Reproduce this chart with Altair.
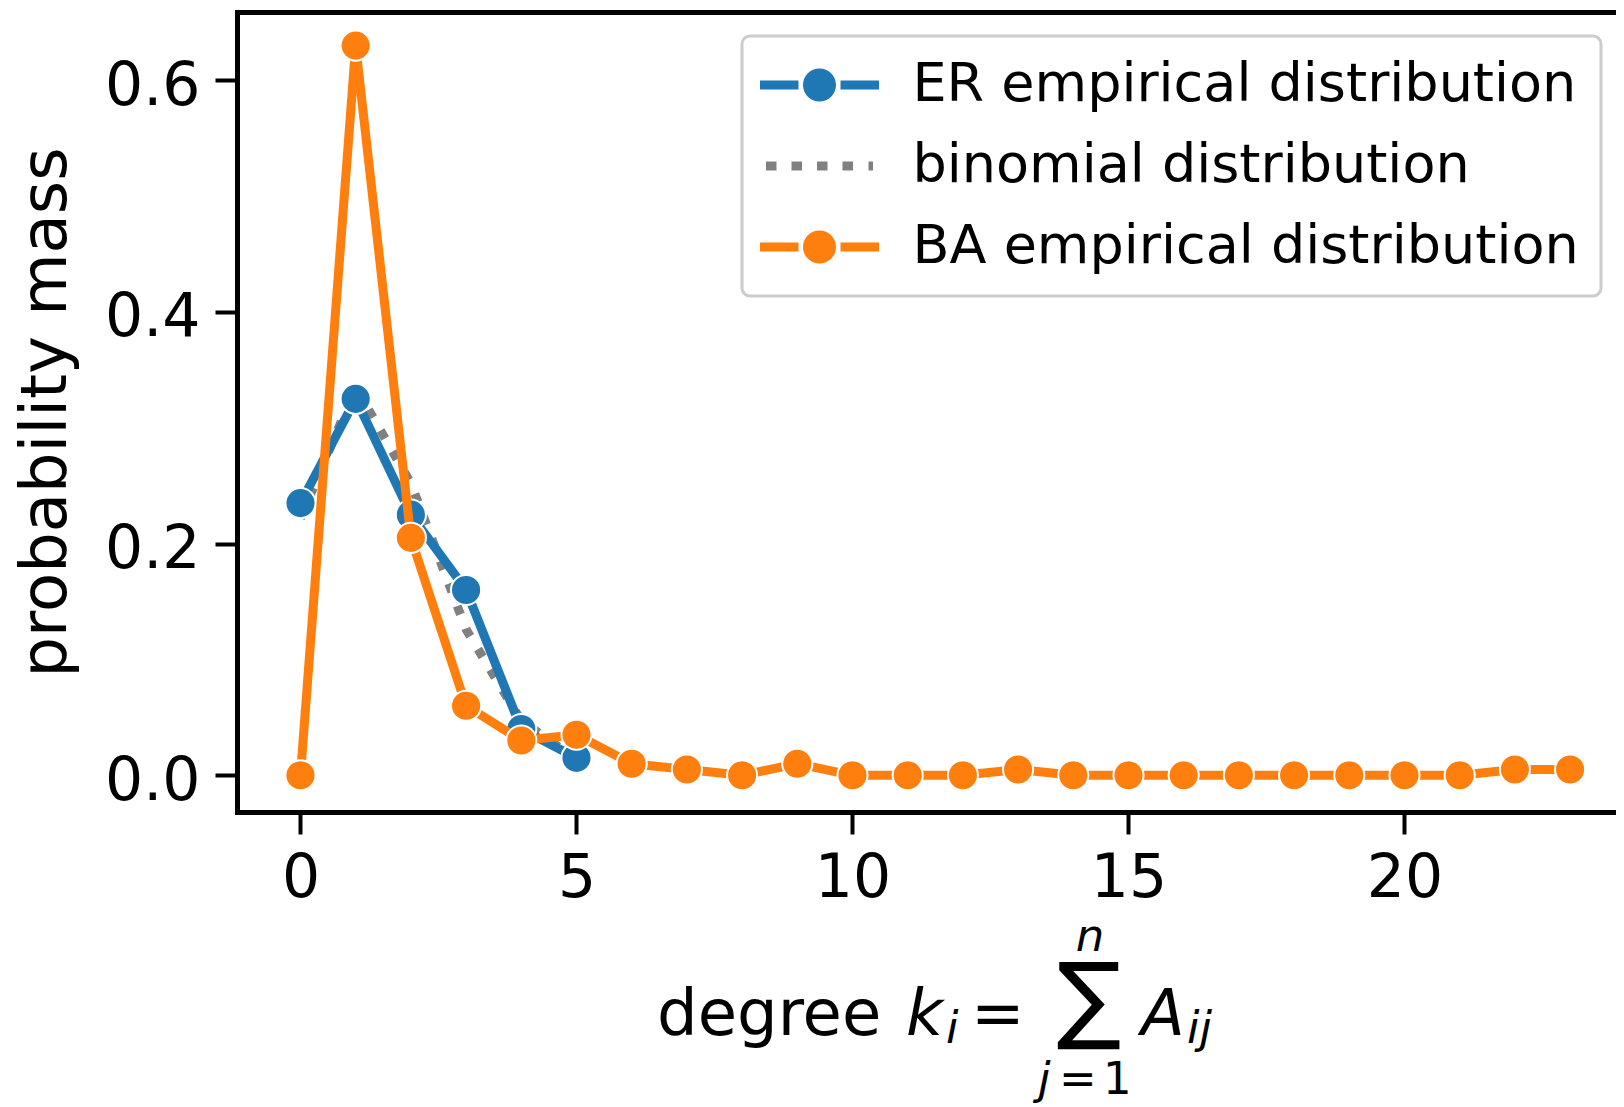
import altair as alt
import pandas as pd

# ---------------- data ----------------
series_names = ["ER empirical distribution", "binomial distribution", "BA empirical distribution"]
series_colors = ["#1f77b4", "#808080", "#ff7f0e"]

er_degree = [0, 1, 2, 3, 4, 5]
er_mass = [0.235, 0.325, 0.225, 0.160, 0.040, 0.015]

binom_degree = [0, 1, 2, 3, 4, 5]
binom_mass = [0.222, 0.335, 0.252, 0.126, 0.047, 0.014]

ba_degree = list(range(24))
ba_mass = [0.0, 0.63, 0.205, 0.06, 0.03, 0.035, 0.01, 0.005, 0.0, 0.01,
           0.0, 0.0, 0.0, 0.005, 0.0, 0.0, 0.0, 0.0, 0.0, 0.0,
           0.0, 0.0, 0.005, 0.005]

x_ticks = [0, 5, 10, 15, 20]
y_ticks = [0.0, 0.2, 0.4, 0.6]

FONT = "DejaVu Sans"

df_er = pd.DataFrame({"k": er_degree, "p": er_mass, "series": series_names[0]})
df_bin = pd.DataFrame({"k": binom_degree, "p": binom_mass, "series": series_names[1]})
df_ba = pd.DataFrame({"k": ba_degree, "p": ba_mass, "series": series_names[2]})
df_leg = pd.DataFrame({"k": [0, 0, 0], "p": [0.0, 0.0, 0.0], "series": series_names})

W = 1379
H = 800
x_scale = alt.Scale(domain=[-1.15, -1.15 + W / 55.2], nice=False, zero=False)
y_scale = alt.Scale(domain=[-0.0317, 0.659], nice=False, zero=False)

x_axis_bottom = alt.Axis(values=x_ticks, format="d", title=None, grid=False,
                         domain=True, domainColor="black", domainWidth=5, domainCap="square",
                         labelFontSize=60, labelFont=FONT, labelColor="black",
                         tickSize=22, tickWidth=4, tickColor="black", labelPadding=15,
                         labelFlush=False, labelOverlap=False)
x_axis_top = alt.Axis(orient="top", labels=False, ticks=False, title=None, grid=False,
                      domain=True, domainColor="black", domainWidth=5, domainCap="square")
y_axis = alt.Axis(values=y_ticks, format=".1f", grid=False,
                  domain=True, domainColor="black", domainWidth=5, domainCap="square",
                  labelFontSize=60, labelFont=FONT, labelColor="black",
                  tickSize=22, tickWidth=4, tickColor="black", labelPadding=15,
                  labelOffset=6, labelFlush=False, labelOverlap=False,
                  title="probability mass", titleFont=FONT, titleFontSize=64,
                  titleFontWeight="normal", titleColor="black",
                  titleAngle=270, titleX=-172, titleY=H / 2,
                  titleAlign="center", titleBaseline="alphabetic")

x_bottom = alt.X("k:Q", scale=x_scale, axis=x_axis_bottom)
x_top = alt.X("k:Q", scale=x_scale, axis=x_axis_top)
x_plain = alt.X("k:Q", scale=x_scale, axis=None)
y_enc = alt.Y("p:Q", scale=y_scale, axis=y_axis)

LW = 9
PT_SIZE = 908

binom_line = alt.Chart(df_bin).mark_line(
    color=series_colors[1], strokeWidth=LW, strokeDash=[9, 15], strokeCap="butt"
).encode(x=x_bottom, y=y_enc)

er_line = alt.Chart(df_er).mark_line(
    color=series_colors[0], strokeWidth=LW, strokeJoin="round"
).encode(x=x_top, y=y_enc)
er_pts = alt.Chart(df_er).mark_point(
    filled=True, fill=series_colors[0], stroke="white", strokeWidth=2,
    size=PT_SIZE, opacity=1, shape="circle"
).encode(x=x_plain, y=y_enc)

ba_line = alt.Chart(df_ba).mark_line(
    color=series_colors[2], strokeWidth=LW, strokeJoin="round"
).encode(x=x_plain, y=y_enc)
ba_pts = alt.Chart(df_ba).mark_point(
    filled=True, fill=series_colors[2], stroke="white", strokeWidth=2,
    size=PT_SIZE, opacity=1, shape="circle"
).encode(x=x_plain, y=y_enc)

# legend symbols: line - marker - line, and dotted line
line_marker_path = ("M-3.606,-0.273L-1.273,-0.273L-1.273,0.273L-3.606,0.273Z "
                    "M1.273,-0.273L3.606,-0.273L3.606,0.273L1.273,0.273Z "
                    "M-1,0A1,1 0 1,0 1,0A1,1 0 1,0 -1,0Z")
dotted_path = ("M-3.242,-0.28L-2.606,-0.28L-2.606,0.28L-3.242,0.28Z "
               "M-1.697,-0.28L-1.061,-0.28L-1.061,0.28L-1.697,0.28Z "
               "M-0.152,-0.28L0.485,-0.28L0.485,0.28L-0.152,0.28Z "
               "M1.394,-0.28L2.030,-0.28L2.030,0.28L1.394,0.28Z "
               "M2.970,-0.28L3.242,-0.28L3.242,0.28L2.970,0.28Z")

legend = alt.Legend(orient="none", legendX=505, legendY=24, title=None,
                    symbolSize=1089, symbolOffset=28.5, labelOffset=66,
                    labelFontSize=54, labelFont=FONT, labelColor="black",
                    labelLimit=2000, rowPadding=27, padding=22,
                    fillColor="white", strokeColor="#cccccc", cornerRadius=8,
                    symbolStrokeWidth=0, symbolOpacity=1)

legend_layer = alt.Chart(df_leg).mark_point(filled=True, opacity=1).encode(
    x=x_plain, y=y_enc,
    color=alt.Color("series:N", scale=alt.Scale(domain=series_names, range=series_colors),
                    legend=legend),
    shape=alt.Shape("series:N", scale=alt.Scale(domain=series_names,
                    range=[line_marker_path, dotted_path, line_marker_path]),
                    legend=legend),
).transform_filter("false")


def txt(s, x, y, size, italic=False, align="left"):
    return alt.Chart(pd.DataFrame({"t": [s]})).mark_text(
        font=FONT, fontSize=size, fontStyle="italic" if italic else "normal",
        align=align, baseline="alphabetic", color="black"
    ).encode(text="t:N", x=alt.value(x), y=alt.value(y))


xlabel = [
    txt("degree", 420, 1023, 64),
    txt("k", 669, 1023, 64, italic=True),
    txt("i", 709, 1031, 45, italic=True),
    txt("=", 734, 1023, 64),
    txt("\u2211", 852, 1019, 96, align="center"),
    txt("n", 853, 939, 45, italic=True, align="center"),
    txt("j", 801, 1082, 45, italic=True),
    txt("=", 822, 1082, 45),
    txt("1", 866, 1082, 45),
    txt("A", 904, 1023, 64, italic=True),
    txt("ij", 950, 1031, 45, italic=True),
]

chart = alt.layer(
    binom_line, er_line, er_pts, ba_line, ba_pts, legend_layer, *xlabel
).resolve_axis(
    x="independent"
).properties(
    width=W, height=H,
    autosize=alt.AutoSizeParams(type="none"),
    padding={"left": 229, "top": 4, "right": 0, "bottom": 292},
).configure_view(
    strokeWidth=0
).configure_legend(
    strokeWidth=3
)

chart.save("out.html", embed_options={"renderer": "svg", "actions": False})
